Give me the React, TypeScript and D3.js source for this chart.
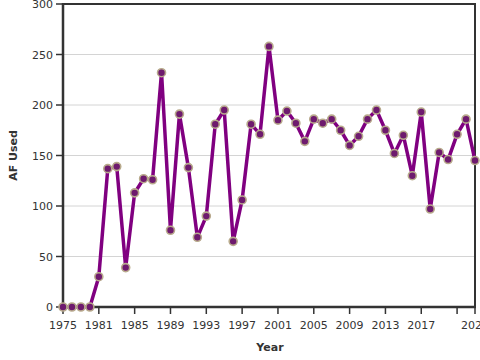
import * as d3 from 'd3'

const YEARS = [
  1975, 1976, 1977, 1978, 1981, 1982, 1983, 1984, 1985, 1986, 1987, 1988,
  1989, 1990, 1991, 1992, 1993, 1994, 1995, 1996, 1997, 1998, 1999, 2000,
  2001, 2002, 2003, 2004, 2005, 2006, 2007, 2008, 2009, 2010, 2011, 2012,
  2013, 2014, 2015, 2016, 2017, 2018, 2019, 2020, 2021, 2022, 2023,
]
const AF_USED = [
  0, 0, 0, 0, 30, 137, 139, 39, 113, 127, 126, 232,
  76, 191, 138, 69, 90, 181, 195, 65, 106, 181, 171, 258,
  185, 194, 182, 164, 186, 182, 186, 175, 160, 169, 186, 195,
  175, 152, 170, 130, 193, 97, 153, 146, 171, 186, 145,
]
const Y_TICKS = [0, 50, 100, 150, 200, 250, 300]
// every 4th point is labelled, plus the last one; the 2021 label is dropped
const X_TICK_INDEX = [0, 4, 8, 12, 16, 20, 24, 28, 32, 36, 40, 44, 46]
const HIDDEN_X_LABELS = [44]

const WIDTH = 480
const HEIGHT = 360
const MARGIN = { top: 4, right: 5, bottom: 53, left: 63 }
const FONT = '"DejaVu Sans", Verdana, sans-serif'

export default function App() {
  const x = d3
    .scaleLinear()
    .domain([0, YEARS.length - 1])
    .range([MARGIN.left, WIDTH - MARGIN.right])
  const y = d3
    .scaleLinear()
    .domain([0, 300])
    .range([HEIGHT - MARGIN.bottom, MARGIN.top])

  const line = d3
    .line<number>()
    .x((_, i) => x(i))
    .y((d) => y(d))

  const left = MARGIN.left
  const right = WIDTH - MARGIN.right
  const top = MARGIN.top
  const bottom = HEIGHT - MARGIN.bottom

  return (
    <svg
      width={WIDTH}
      height={HEIGHT}
      style={{ position: 'absolute', left: 0, top: 0, overflow: 'hidden', background: '#fff' }}
      fontFamily={FONT}
    >
      {Y_TICKS.slice(1, -1).map((t) => (
        <line key={t} x1={left} x2={right} y1={y(t)} y2={y(t)} stroke="#d4d4d4" strokeWidth={1} />
      ))}

      {/* frame */}
      <line x1={left} x2={right} y1={top} y2={top} stroke="#333" strokeWidth={2} />
      <line x1={right} x2={right} y1={top - 1} y2={bottom} stroke="#333" strokeWidth={2} />
      <line x1={left} x2={left} y1={top - 1} y2={bottom + 1} stroke="#333" strokeWidth={2.5} />
      <line x1={left} x2={right + 1} y1={bottom} y2={bottom} stroke="#333" strokeWidth={2.5} />

      {Y_TICKS.map((t) => (
        <g key={t}>
          <line x1={left - 7} x2={left} y1={y(t)} y2={y(t)} stroke="#333" strokeWidth={1.5} />
          <text x={left - 10} y={y(t) + 4} textAnchor="end" fontSize={11} fill="#333">
            {t}
          </text>
        </g>
      ))}

      {X_TICK_INDEX.map((i) => (
        <g key={i}>
          <line x1={x(i)} x2={x(i)} y1={bottom} y2={bottom + 7} stroke="#333" strokeWidth={1.5} />
          {!HIDDEN_X_LABELS.includes(i) && (
            <text x={x(i)} y={bottom + 22} textAnchor="middle" fontSize={11} fill="#333">
              {YEARS[i]}
            </text>
          )}
        </g>
      ))}

      <text
        transform={`translate(17 ${(top + bottom) / 2}) rotate(-90)`}
        textAnchor="middle"
        fontSize={11}
        fontWeight="bold"
        fill="#333"
      >
        AF Used
      </text>
      <text x={270} y={351} textAnchor="middle" fontSize={11} fontWeight="bold" fill="#333">
        Year
      </text>

      <path d={line(AF_USED) ?? undefined} fill="none" stroke="#800080" strokeWidth={3.5} strokeLinejoin="round" />
      {AF_USED.map((v, i) => (
        <circle key={i} cx={x(i)} cy={y(v)} r={4} fill="#6e1a6e" stroke="#b8aa8c" strokeWidth={1.6} />
      ))}
    </svg>
  )
}
